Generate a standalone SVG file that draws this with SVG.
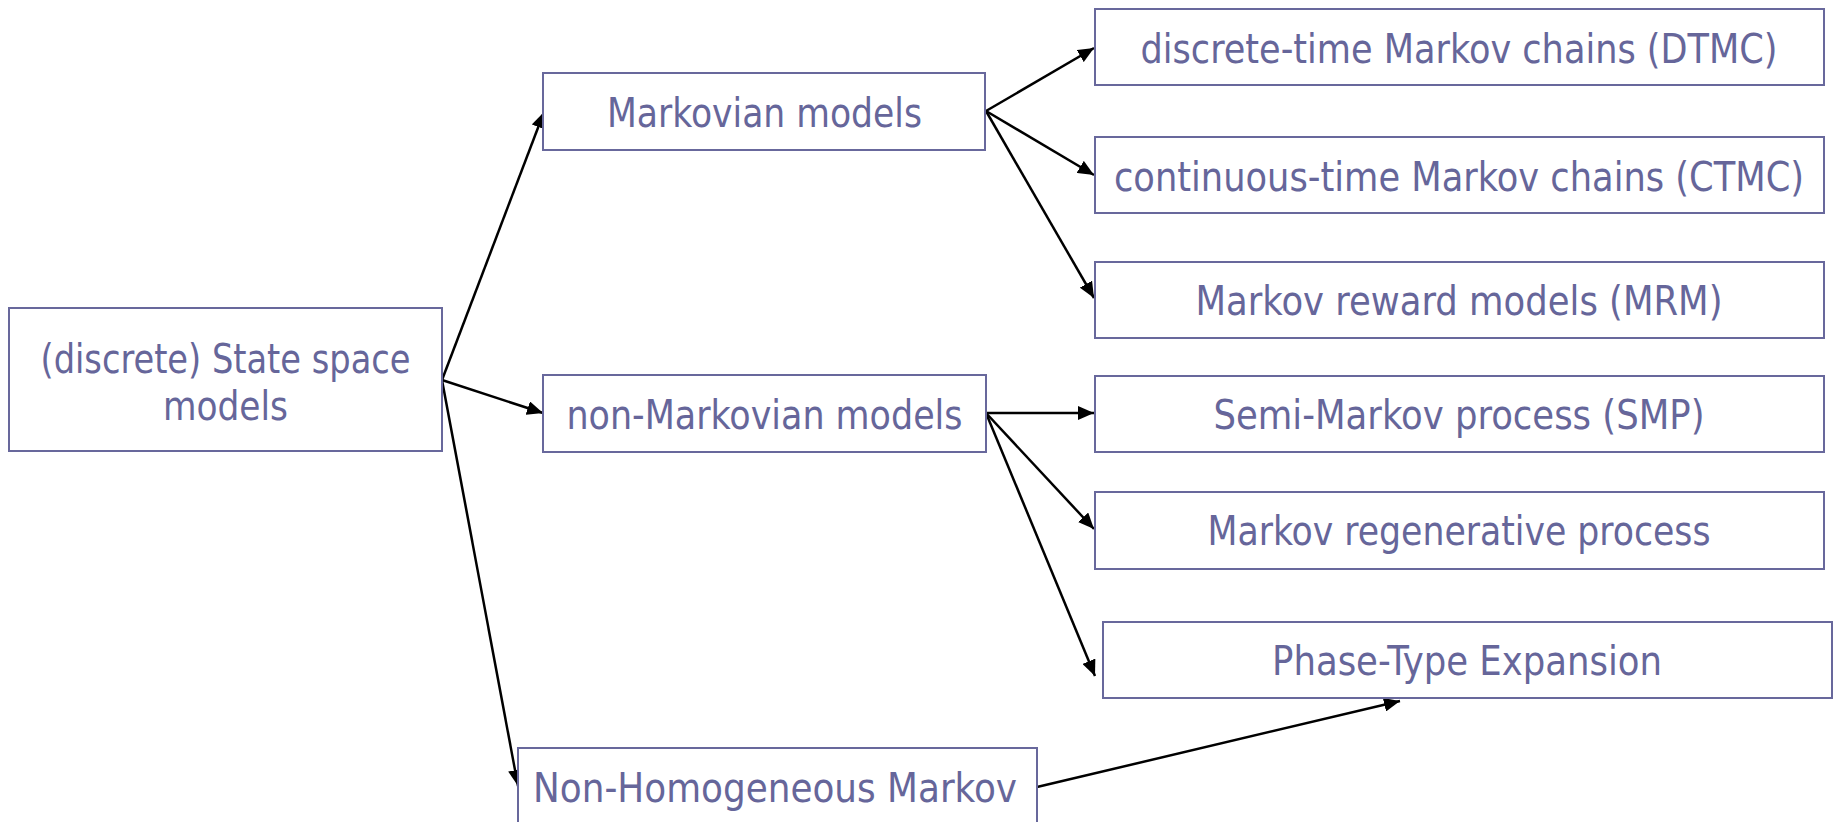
<svg xmlns="http://www.w3.org/2000/svg" width="1835" height="822" viewBox="0 0 1835 822">
  <style>
    .box { fill: #ffffff; stroke: #68689c; stroke-width: 2; }
    .lbl { font-family: "DejaVu Sans Condensed", "DejaVu Sans", "Noto Sans", sans-serif; font-stretch: condensed; font-size: 41px; fill: #66669a; text-anchor: middle; }
    .edge { stroke: #000000; stroke-width: 2.5; fill: none; marker-end: url(#arrow); }
  </style>
  <defs>
    <marker id="arrow" markerUnits="userSpaceOnUse" markerWidth="17" markerHeight="14" refX="16" refY="7" orient="auto">
      <path d="M0,0 L16,7 L0,14 Z" fill="#000000"/>
    </marker>
  </defs>
  <rect width="1835" height="822" fill="#ffffff"/>

  <g id="connectors">
    <line class="edge" x1="442" y1="380" x2="544" y2="112"/>
    <line class="edge" x1="442" y1="380" x2="543" y2="413"/>
    <line class="edge" x1="442" y1="380" x2="518" y2="786"/>
    <line class="edge" x1="986" y1="111" x2="1094" y2="48"/>
    <line class="edge" x1="986" y1="111" x2="1094" y2="175"/>
    <line class="edge" x1="986" y1="111" x2="1094" y2="298"/>
    <line class="edge" x1="986" y1="413" x2="1094" y2="413"/>
    <line class="edge" x1="986" y1="413" x2="1094" y2="529"/>
    <line class="edge" x1="986" y1="413" x2="1095" y2="676"/>
    <line class="edge" x1="1037" y1="787" x2="1400" y2="701"/>
  </g>

  <g id="state-space">
    <rect class="box" x="9" y="308" width="433" height="143"/>
    <text class="lbl" x="225.5" y="373" textLength="370" lengthAdjust="spacingAndGlyphs">(discrete) State space</text>
    <text class="lbl" x="225.5" y="420" textLength="125" lengthAdjust="spacingAndGlyphs">models</text>
  </g>

  <g id="markovian">
    <rect class="box" x="543" y="73" width="442" height="77"/>
    <text class="lbl" x="764.5" y="127" textLength="315" lengthAdjust="spacingAndGlyphs">Markovian models</text>
  </g>

  <g id="non-markovian">
    <rect class="box" x="543" y="375" width="443" height="77"/>
    <text class="lbl" x="764.5" y="429" textLength="396" lengthAdjust="spacingAndGlyphs">non-Markovian models</text>
  </g>

  <g id="non-homogeneous">
    <rect class="box" x="518" y="748" width="519" height="78"/>
    <text class="lbl" x="775" y="802" textLength="484" lengthAdjust="spacingAndGlyphs">Non-Homogeneous Markov</text>
  </g>

  <g id="dtmc">
    <rect class="box" x="1095" y="9" width="729" height="76"/>
    <text class="lbl" x="1459" y="63" textLength="637" lengthAdjust="spacingAndGlyphs">discrete-time Markov chains (DTMC)</text>
  </g>

  <g id="ctmc">
    <rect class="box" x="1095" y="137" width="729" height="76"/>
    <text class="lbl" x="1459" y="191" textLength="690" lengthAdjust="spacingAndGlyphs">continuous-time Markov chains (CTMC)</text>
  </g>

  <g id="mrm">
    <rect class="box" x="1095" y="262" width="729" height="76"/>
    <text class="lbl" x="1459" y="315" textLength="527" lengthAdjust="spacingAndGlyphs">Markov reward models (MRM)</text>
  </g>

  <g id="smp">
    <rect class="box" x="1095" y="376" width="729" height="76"/>
    <text class="lbl" x="1459" y="429" textLength="491" lengthAdjust="spacingAndGlyphs">Semi-Markov process (SMP)</text>
  </g>

  <g id="mrgp">
    <rect class="box" x="1095" y="492" width="729" height="77"/>
    <text class="lbl" x="1459" y="545" textLength="503" lengthAdjust="spacingAndGlyphs">Markov regenerative process</text>
  </g>

  <g id="phase-type">
    <rect class="box" x="1103" y="622" width="729" height="76"/>
    <text class="lbl" x="1467" y="675" textLength="390" lengthAdjust="spacingAndGlyphs">Phase-Type Expansion</text>
  </g>
</svg>
